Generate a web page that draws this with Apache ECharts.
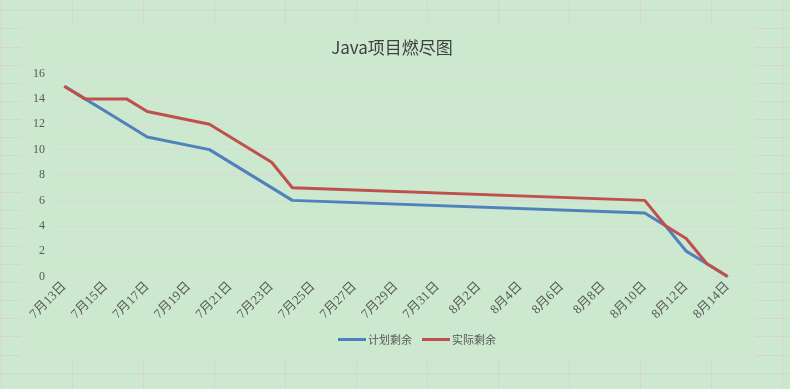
<!DOCTYPE html>
<html>
<head>
<meta charset="utf-8">
<script src="https://cdn.jsdelivr.net/npm/echarts@6/dist/echarts.min.js"></script>
<style>
html,body{margin:0;padding:0;background:#CCE8CF;}
#chart{width:790px;height:389px;}
</style>
</head>
<body>
<div id="chart"></div>
<script>
// Categories: every day from 7月13日 to 8月14日
const dates = [
  '7月13日','7月14日','7月15日','7月16日','7月17日','7月18日','7月19日','7月20日',
  '7月21日','7月22日','7月23日','7月24日','7月25日','7月26日','7月27日','7月28日',
  '7月29日','7月30日','7月31日','8月1日','8月2日','8月3日','8月4日','8月5日',
  '8月6日','8月7日','8月8日','8月9日','8月10日','8月11日','8月12日','8月13日','8月14日'
];
// 计划剩余 (planned remaining)
const plannedDates  = ['7月13日','7月14日','7月15日','7月17日','7月20日','7月24日','8月10日','8月11日','8月12日','8月13日','8月14日'];
const plannedValues = [15, 14, 13, 11, 10, 6, 5, 4, 2, 1, 0];
// 实际剩余 (actual remaining)
const actualDates  = ['7月13日','7月14日','7月16日','7月17日','7月20日','7月23日','7月24日','8月10日','8月11日','8月12日','8月13日','8月14日'];
const actualValues = [15, 14, 14, 13, 12, 9, 7, 6, 4, 3, 1, 0];
const yTicks = [0, 2, 4, 6, 8, 10, 12, 14, 16];

const pair = (ds, vs) => ds.map((d, i) => [d, vs[i]]);

// spreadsheet background cell grid (decoration)
const bg = [];
for (let k = 0; k < 12; k++) {
  const x = 1.5 + 71 * k;
  bg.push({type:'line', z:-10, silent:true, shape:{x1:x,y1:0,x2:x,y2:389}, style:{stroke:'#d4d4d4',lineWidth:1}});
}
for (let k = 0; k < 22; k++) {
  const y = Math.round(10.3 + 18.12 * k) + 0.5;
  bg.push({type:'line', z:-10, silent:true, shape:{x1:0,y1:y,x2:790,y2:y}, style:{stroke:'#d4d4d4',lineWidth:1}});
}
bg.push({type:'rect', z:-5, silent:true, shape:{x:21.5,y:23.5,width:733,height:336.5},
  style:{fill:'#CCE8CF', stroke:'#dadada', lineWidth:1}});

const chart = echarts.init(document.getElementById('chart'));
chart.setOption({
  backgroundColor: '#CCE8CF',
  animation: false,
  graphic: bg,
  title: {
    text: 'Java项目燃尽图',
    left: 387,
    textAlign: 'center',
    top: 34,
    textStyle: {fontFamily:'Noto Sans CJK SC', fontSize:17, fontWeight:'normal', color:'#404040'}
  },
  legend: {
    bottom: 44,
    left: 338,
    padding: 0,
    itemWidth: 28,
    itemHeight: 3,
    itemGap: 10,
    icon: 'rect',
    textStyle: {fontFamily:'Noto Sans CJK SC', fontSize:11, color:'#595959', padding:[0,0,0,-3]},
    data: ['计划剩余','实际剩余']
  },
  grid: {left:54, right:52, top:73.5, bottom:112.5, containLabel:false},
  xAxis: {
    type: 'category',
    data: dates,
    boundaryGap: true,
    axisLine: {lineStyle:{color:'#d9d9d9', width:1}},
    axisTick: {show:true, interval:1, length:4, lineStyle:{color:'#d9d9d9'}},
    axisLabel: {
      interval: 1, rotate: 45, margin: 8,
      fontFamily: 'Liberation Serif, Noto Sans CJK SC', fontSize: 13, color: '#595959'
    },
    splitLine: {show:false}
  },
  yAxis: {
    type: 'value',
    min: yTicks[0],
    max: yTicks[yTicks.length - 1],
    interval: 2,
    axisLine: {show:false},
    axisTick: {show:false},
    axisLabel: {margin: 9, fontFamily:'Liberation Serif', fontSize:12, color:'#595959'},
    splitLine: {lineStyle:{color:'#d9d9d9', width:1}}
  },
  series: [
    {
      name: '计划剩余',
      type: 'line',
      data: pair(plannedDates, plannedValues),
      showSymbol: false,
      symbol: 'none',
      lineStyle: {color:'#4F81BD', width:3},
      itemStyle: {color:'#4F81BD'}
    },
    {
      name: '实际剩余',
      type: 'line',
      data: pair(actualDates, actualValues),
      showSymbol: false,
      symbol: 'none',
      lineStyle: {color:'#C0504D', width:3},
      itemStyle: {color:'#C0504D'}
    }
  ]
});
</script>
</body>
</html>
